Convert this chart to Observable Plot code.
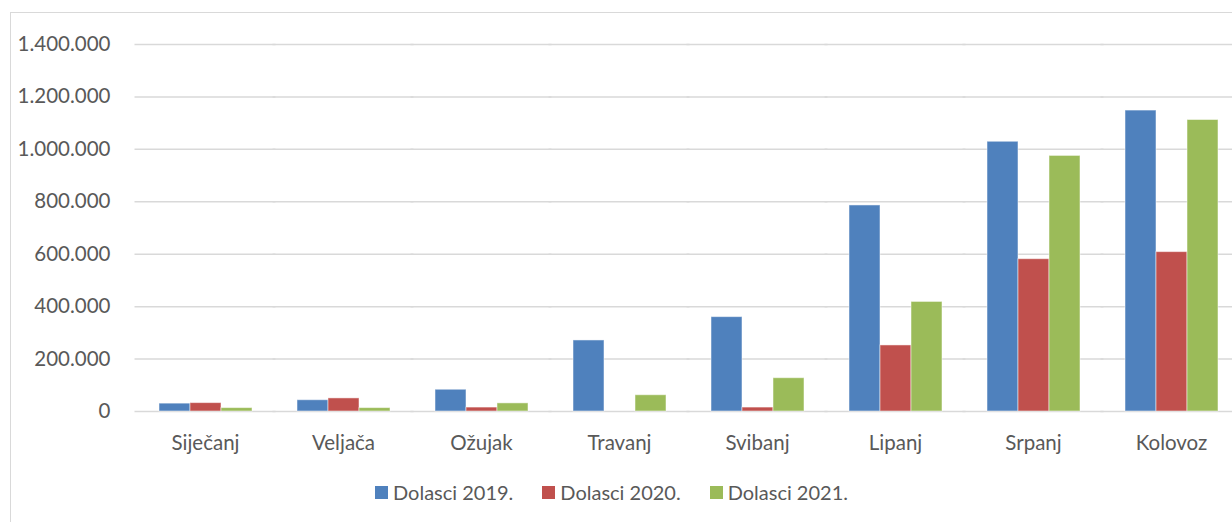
<!DOCTYPE html>
<html><head><meta charset="utf-8">
<script src="https://cdn.jsdelivr.net/npm/d3@7"></script>
<script src="https://cdn.jsdelivr.net/npm/@observablehq/plot@0.6"></script>
<style>
html,body{margin:0;padding:0;background:#fff;overflow:hidden;width:1232px;height:522px;}
#wrap{position:relative;width:1232px;height:522px;font-family:Lato,sans-serif;}
#border{position:absolute;left:10px;top:12px;width:1300px;height:600px;border:1.5px solid #d9d9d9;box-sizing:border-box;}
#chart{position:absolute;left:0;top:0;}
#legend{position:absolute;left:375px;top:480px;display:flex;align-items:center;font-size:20px;color:#595959;white-space:nowrap;}
.item{display:flex;align-items:center;margin-right:29px;}
.sw{width:13px;height:13px;margin-right:5px;}
</style>
</head><body>
<div id="wrap"><div id="border"></div><div id="chart"></div><div id="legend"></div></div>
<script>
const months = ["Siječanj","Veljača","Ožujak","Travanj","Svibanj","Lipanj","Srpanj","Kolovoz"];
const series = ["Dolasci 2019.","Dolasci 2020.","Dolasci 2021."];
const dolasci2019 = [30000, 43000, 83000, 271000, 360000, 786000, 1029000, 1148000];
const dolasci2020 = [32000, 50000, 15000, 0, 15000, 252000, 581000, 608000];
const dolasci2021 = [13000, 13000, 31000, 62000, 127000, 418000, 975000, 1112000];
const colors = ["#4F81BD","#C0504D","#9BBB59"];
const yTicks = [0,200000,400000,600000,800000,1000000,1200000,1400000];

const values = [dolasci2019, dolasci2020, dolasci2021];
const data = months.flatMap((m,i)=>series.map((s,j)=>({month:m, series:s, value:values[j][i]})));
const fmt = d3.formatLocale({decimal:",", thousands:".", grouping:[3], currency:["",""]}).format(",d");

const chart = Plot.plot({
  width:1232, height:470,
  marginLeft:133, marginRight:-11, marginTop:44, marginBottom:59,
  style:{fontFamily:"Lato, sans-serif", fontSize:"20px", color:"#595959", background:"transparent"},
  fx:{domain:months, paddingInner:0.32, paddingOuter:0.16, label:null},
  x:{domain:series, padding:0, axis:null},
  y:{domain:[0,1400000], label:null},
  color:{domain:series, range:colors},
  marks:[
    Plot.ruleY(yTicks, {y:d=>d, stroke:"#d9d9d9", strokeWidth:1.5, insetLeft:-23.5, insetRight:-23.5}),
    Plot.axisY({ticks:yTicks, tickSize:0, tickPadding:48, tickFormat:fmt, fill:"#595959", fontSize:20.5, label:null}),
    Plot.barY(data, {fx:"month", x:"series", y:"value", fill:"series", stroke:"#ffffff", strokeOpacity:0.5, strokeWidth:1}),
    Plot.axisFx({anchor:"bottom", tickSize:0, tickPadding:24, fontSize:20.5, fill:"#595959", label:null})
  ]
});
document.getElementById("chart").appendChild(chart);

const legend = document.getElementById("legend");
series.forEach((s,i)=>{
  const it = document.createElement("div"); it.className="item";
  const sw = document.createElement("div"); sw.className="sw"; sw.style.background=colors[i];
  const t = document.createElement("span"); t.textContent=s;
  it.appendChild(sw); it.appendChild(t); legend.appendChild(it);
});
</script>
</body></html>
